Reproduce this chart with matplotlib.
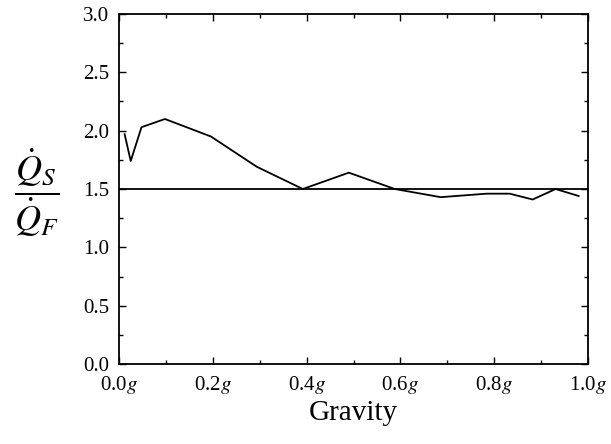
import matplotlib
matplotlib.use("Agg")
import matplotlib.pyplot as plt
from matplotlib.ticker import MultipleLocator, FixedFormatter, FixedLocator

plt.rcParams['font.family'] = ['Liberation Serif', 'DejaVu Serif']
plt.rcParams['mathtext.fontset'] = 'stix'

# flow ratio against gravity (fraction of g)
gravity = [0.012, 0.025, 0.048, 0.098, 0.196, 0.294, 0.392, 0.49,
           0.588, 0.686, 0.784, 0.833, 0.882, 0.931, 0.98]
ratio = [1.97, 1.74, 2.03, 2.10, 1.95, 1.69, 1.50, 1.64,
         1.50, 1.43, 1.46, 1.46, 1.41, 1.50, 1.44]
reference_level = 1.5

x_ticks = [0.0, 0.2, 0.4, 0.6, 0.8, 1.0]
x_tick_labels = ["0.0$g$", "0.2$g$", "0.4$g$", "0.6$g$", "0.8$g$", "1.0$g$"]

fig = plt.figure(figsize=(6.11, 4.44), dpi=100)
ax = fig.add_axes([119 / 611, 1 - 364 / 444, 469 / 611, 350 / 444])

ax.plot(gravity, ratio, color='black', lw=1.3)
ax.axhline(reference_level, color='black', lw=1.3)

ax.set_xlim(0, 1.0)
ax.set_ylim(0, 3.0)
ax.xaxis.set_major_locator(FixedLocator(x_ticks))
ax.xaxis.set_major_formatter(FixedFormatter(x_tick_labels))
ax.xaxis.set_minor_locator(MultipleLocator(0.1))
ax.yaxis.set_major_locator(MultipleLocator(0.5))
ax.yaxis.set_minor_locator(MultipleLocator(0.25))
ax.yaxis.set_major_formatter(matplotlib.ticker.FormatStrFormatter('%.1f'))

ax.tick_params(which='both', direction='in', top=True, right=True,
               labelsize=15, width=1.0)
ax.tick_params(which='major', length=5, pad=7)
ax.tick_params(which='minor', length=3)
for s in ax.spines.values():
    s.set_linewidth(1.3)

ax.set_xlabel("Gravity", fontsize=21, labelpad=3)
ax.set_ylabel(r"$\dfrac{\dot{Q}_S}{\dot{Q}_F}$", fontsize=26, rotation=0,
              va='center', ha='center')
ax.yaxis.set_label_coords(-82 / 469, (364 - 193) / 350)

fig.savefig("out.png", dpi=100)
